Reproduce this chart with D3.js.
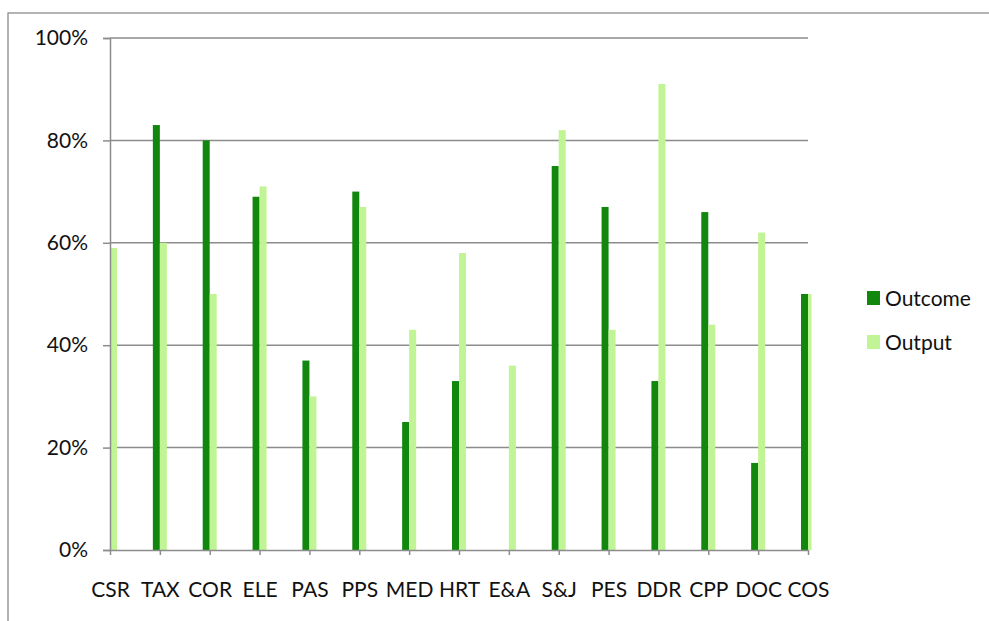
<!DOCTYPE html>
<html>
<head>
<meta charset="utf-8">
<script src="https://cdn.jsdelivr.net/npm/d3@7"></script>
<style>
  html, body { margin: 0; padding: 0; background: #fff; }
  svg { display: block; }
  text { font-family: Lato, "Open Sans", sans-serif; fill: #111; }
</style>
</head>
<body>
<svg id="chart" width="989" height="621"></svg>
<script>
const categories = ["CSR","TAX","COR","ELE","PAS","PPS","MED","HRT","E&A","S&J","PES","DDR","CPP","DOC","COS"];
const outcome = [0, 83, 80, 69, 37, 70, 25, 33, 0, 75, 67, 33, 66, 17, 50];
const output  = [59, 60, 50, 71, 30, 67, 43, 58, 36, 82, 43, 91, 44, 62, 50];
const seriesNames = ["Outcome", "Output"];
const seriesColors = ["#11880d", "#c0f494"];
const yTicks = [0, 20, 40, 60, 80, 100];

(function () {
const svg = d3.select("#chart");
const pL = 110, pR = 808, pT = 38, pB = 550;
const fs = 21;

// outer chart border (partly off-canvas)
svg.append("rect").attr("x", 8).attr("y", 13).attr("width", 1200).attr("height", 800)
  .attr("fill", "none").attr("stroke", "#8c8c8c").attr("stroke-width", 1.3);

const x = d3.scalePoint().domain(categories).range([pL, pR]).padding(0);
const y = d3.scaleLinear().domain([0, 100]).range([pB, pT]);

// gridlines
svg.append("g").selectAll("line").data(yTicks.filter(d => d > 0)).join("line")
  .attr("x1", pL).attr("x2", pR)
  .attr("y1", d => y(d)).attr("y2", d => y(d))
  .attr("stroke", "#8c8c8c").attr("stroke-width", 1.5);

// clip for bars
svg.append("clipPath").attr("id", "plotclip").append("rect")
  .attr("x", pL).attr("y", 0).attr("width", pR - pL + 3.5).attr("height", pB);

const bw = 7;
const barsG = svg.append("g").attr("clip-path", "url(#plotclip)");
const data = [];
categories.forEach((c, i) => {
  data.push({c, s: 0, v: outcome[i]});
  data.push({c, s: 1, v: output[i]});
});
barsG.selectAll("rect").data(data.filter(d => d.v > 0)).join("rect")
  .attr("x", d => d.s === 0 ? x(d.c) - bw : x(d.c))
  .attr("width", bw)
  .attr("y", d => y(d.v))
  .attr("height", d => y(0) - y(d.v))
  .attr("fill", d => seriesColors[d.s]);

// y axis
const yAxis = d3.axisLeft(y).tickValues(yTicks).tickFormat(d => d + "%").tickSize(7).tickPadding(15);
const yg = svg.append("g").attr("transform", `translate(${pL},0)`).call(yAxis);
yg.select(".domain").attr("stroke", "#8c8c8c").attr("stroke-width", 1.5);
yg.selectAll(".tick line").attr("stroke", "#8c8c8c").attr("stroke-width", 1.5);
yg.selectAll(".tick text").attr("font-size", fs).attr("font-family", "Lato, sans-serif").attr("fill", "#111");

// x axis
const xAxis = d3.axisBottom(x).tickSize(5).tickPadding(27).tickSizeOuter(0);
const xg = svg.append("g").attr("transform", `translate(0,${pB})`).call(xAxis);
xg.select(".domain").attr("stroke", "#8c8c8c").attr("stroke-width", 1.5);
xg.selectAll(".tick line").attr("stroke", "#8c8c8c").attr("stroke-width", 1.5);
xg.selectAll(".tick text").attr("font-size", fs).attr("font-family", "Lato, sans-serif").attr("fill", "#111");

// legend
const lg = svg.append("g");
seriesNames.forEach((n, i) => {
  const ly = 291 + i * 44;
  lg.append("rect").attr("x", 867).attr("y", ly).attr("width", 13).attr("height", 14).attr("fill", seriesColors[i]);
  lg.append("text").attr("x", 885).attr("y", ly + 14.5).attr("font-size", fs).text(n);
});
})();
</script>
</body>
</html>
